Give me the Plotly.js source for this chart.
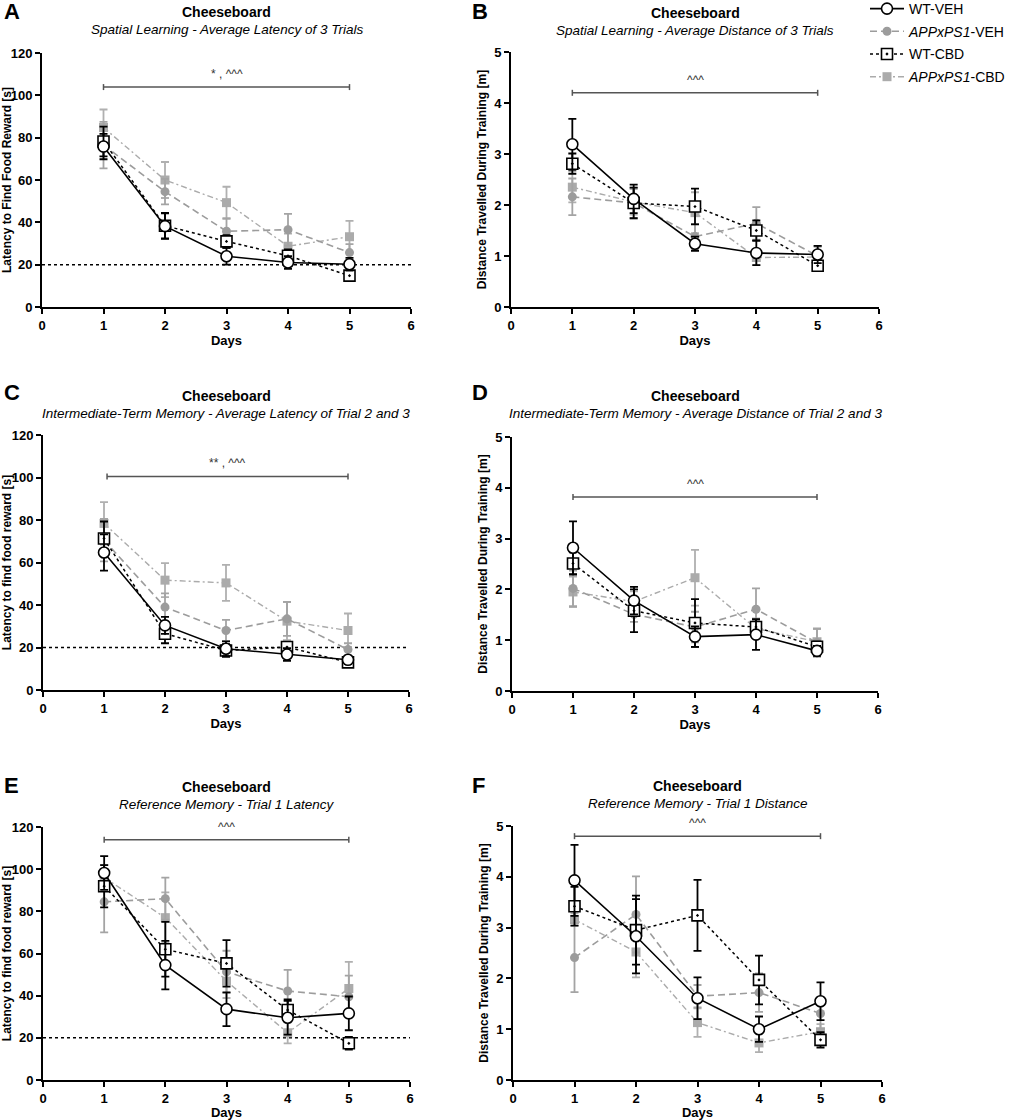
<!DOCTYPE html>
<html>
<head>
<meta charset="utf-8">
<script src="https://cdn.plot.ly/plotly-3.0.1.min.js"></script>
<style>
html,body{margin:0;padding:0;background:#fff;}
#chart{width:1017px;height:1120px;}
</style>
</head>
<body>
<div id="chart"></div>
<script>
// ---------- data ----------
const days = [1, 2, 3, 4, 5];
const seriesNames = ['WT-VEH', '<i>APPxPS1</i>-VEH', 'WT-CBD', '<i>APPxPS1</i>-CBD'];

// Panel A: Spatial learning - latency
const A_wtVeh = [75.8, 38.2, 24.0, 21.0, 20.2];
const A_wtVeh_err = [6, 6, 4, 3, 3];
const A_appVeh = [76.5, 54.5, 35.8, 36.5, 25.7];
const A_appVeh_err = [11, 6, 6, 7.5, 4];
const A_wtCbd = [78.2, 38.4, 31.0, 24.2, 14.8];
const A_wtCbd_err = [7, 6, 3, 3, 1.5];
const A_appCbd = [84.8, 60.0, 49.3, 28.7, 33.2];
const A_appCbd_err = [8.5, 8.5, 7.5, 6, 7.5];

// Panel B: Spatial learning - distance
const B_wtVeh = [3.19, 2.12, 1.24, 1.06, 1.03];
const B_wtVeh_err = [0.5, 0.28, 0.14, 0.24, 0.17];
const B_appVeh = [2.16, 2.04, 1.38, 1.64, 1.0];
const B_appVeh_err = [0.36, 0.3, 0.25, 0.32, 0.2];
const B_wtCbd = [2.81, 2.04, 1.97, 1.50, 0.81];
const B_wtCbd_err = [0.2, 0.3, 0.35, 0.2, 0.1];
const B_appCbd = [2.35, 2.06, 1.85, 0.97, 0.98];
const B_appCbd_err = [0.3, 0.25, 0.4, 0.15, 0.2];

// Panel C: Intermediate-term memory - latency
const C_wtVeh = [64.7, 30.4, 19.4, 16.7, 14.2];
const C_wtVeh_err = [8.5, 4, 3.5, 3, 2];
const C_appVeh = [70.5, 39.0, 28.0, 33.5, 19.0];
const C_appVeh_err = [10, 6.5, 5, 8, 3];
const C_wtCbd = [71.3, 26.5, 18.6, 20.2, 13.0];
const C_wtCbd_err = [8, 4.5, 3, 2, 2];
const C_appCbd = [78.4, 51.7, 50.4, 32.4, 28.0];
const C_appCbd_err = [10, 8, 8.5, 9, 8];

// Panel D: Intermediate-term memory - distance
const D_wtVeh = [2.82, 1.78, 1.07, 1.11, 0.79];
const D_wtVeh_err = [0.52, 0.27, 0.2, 0.3, 0.1];
const D_appVeh = [2.02, 1.51, 1.26, 1.61, 0.95];
const D_appVeh_err = [0.35, 0.15, 0.3, 0.41, 0.28];
const D_wtCbd = [2.51, 1.58, 1.34, 1.26, 0.87];
const D_wtCbd_err = [0.22, 0.42, 0.47, 0.15, 0.1];
const D_appCbd = [1.95, 1.76, 2.23, 1.23, 0.97];
const D_appCbd_err = [0.3, 0.2, 0.55, 0.2, 0.25];

// Panel E: Reference memory - latency
const E_wtVeh = [98.2, 54.5, 33.6, 29.5, 31.6];
const E_wtVeh_err = [8, 11.5, 8, 8, 8];
const E_appVeh = [84.5, 86.0, 51.3, 42.2, 39.5];
const E_appVeh_err = [14.5, 10, 10, 10, 10];
const E_wtCbd = [91.9, 62.0, 55.3, 33.2, 17.4];
const E_wtCbd_err = [10, 13, 11, 5, 3];
const E_appCbd = [96.0, 77.0, 46.9, 22.4, 43.4];
const E_appCbd_err = [6, 12, 8, 5, 12.6];

// Panel F: Reference memory - distance
const F_wtVeh = [3.93, 2.83, 1.61, 1.0, 1.55];
const F_wtVeh_err = [0.7, 0.73, 0.41, 0.25, 0.37];
const F_appVeh = [2.41, 3.26, 1.65, 1.72, 1.31];
const F_appVeh_err = [0.68, 0.75, 0.22, 0.38, 0.3];
const F_wtCbd = [3.42, 2.95, 3.24, 1.97, 0.79];
const F_wtCbd_err = [0.38, 0.68, 0.7, 0.48, 0.15];
const F_appCbd = [3.16, 2.52, 1.13, 0.73, 0.95];
const F_appCbd_err = [0.12, 0.5, 0.28, 0.18, 0.15];

const panelLetters = ['A', 'B', 'C', 'D', 'E', 'F'];
const panelSubtitles = [
  'Spatial Learning - Average Latency of 3 Trials',
  'Spatial Learning - Average Distance of 3 Trials',
  'Intermediate-Term Memory - Average Latency of Trial 2 and 3',
  'Intermediate-Term Memory - Average Distance of Trial 2 and 3',
  'Reference Memory - Trial 1 Latency',
  'Reference Memory - Trial 1 Distance'
];
const yTitles = [
  'Latency to Find Food Reward [s]',
  'Distance Travelled During Training [m]',
  'Latency to find food reward [s]',
  'Distance Travelled During Training [m]',
  'Latency to find food reward [s]',
  'Distance Travelled During Training [m]'
];
const sigY = [103.9, 4.2, 100.5, 3.82, 114, 4.8];
const sigX0 = [1, 1, 1.05, 1, 1, 1];
const sigX1 = [5, 5, 5, 5, 5, 5];
const sigText = ['* , ^^^', '^^^', '** , ^^^', '^^^', '^^^', '^^^'];
const criterionLatency = 20;

// ---------- layout geometry (pixels) ----------
const W = 1017, H = 1120;
const boxes = [
  {x0: 42, x1: 411, y0: 53, y1: 307},
  {x0: 511, x1: 879, y0: 52, y1: 307},
  {x0: 43, x1: 409, y0: 435, y1: 690},
  {x0: 512, x1: 878, y0: 437, y1: 691},
  {x0: 43, x1: 410, y0: 827, y1: 1080},
  {x0: 513, x1: 882, y0: 826, y1: 1080}
];
const titleY = [12, 13, 396, 396, 787, 786];
const letterPos = [{x: 2, y: 12}, {x: 470, y: 12}, {x: 2, y: 392}, {x: 470, y: 392}, {x: 2, y: 785}, {x: 470, y: 785}];

const panels = [
  [A_wtVeh, A_wtVeh_err, A_appVeh, A_appVeh_err, A_wtCbd, A_wtCbd_err, A_appCbd, A_appCbd_err],
  [B_wtVeh, B_wtVeh_err, B_appVeh, B_appVeh_err, B_wtCbd, B_wtCbd_err, B_appCbd, B_appCbd_err],
  [C_wtVeh, C_wtVeh_err, C_appVeh, C_appVeh_err, C_wtCbd, C_wtCbd_err, C_appCbd, C_appCbd_err],
  [D_wtVeh, D_wtVeh_err, D_appVeh, D_appVeh_err, D_wtCbd, D_wtCbd_err, D_appCbd, D_appCbd_err],
  [E_wtVeh, E_wtVeh_err, E_appVeh, E_appVeh_err, E_wtCbd, E_wtCbd_err, E_appCbd, E_appCbd_err],
  [F_wtVeh, F_wtVeh_err, F_appVeh, F_appVeh_err, F_wtCbd, F_wtCbd_err, F_appCbd, F_appCbd_err]
];

const FONT = '"Liberation Sans", Arial, Helvetica, sans-serif';
const styles = [
  {name: seriesNames[0], line: {color: '#000', width: 1.6, dash: 'solid'},
   marker: {symbol: 'circle', size: 11, color: '#fff', line: {color: '#000', width: 1.6}}, err: '#000', rank: 1},
  {name: seriesNames[1], line: {color: '#9c9c9c', width: 1.6, dash: '7px,4px'},
   marker: {symbol: 'circle', size: 9, color: '#9c9c9c', line: {color: '#9c9c9c', width: 0}}, err: '#a4a4a4', rank: 2},
  {name: seriesNames[2], line: {color: '#000', width: 1.5, dash: 'dot'},
   marker: {symbol: 'square-dot', size: 11, color: '#fff', line: {color: '#000', width: 1.6}}, err: '#000', rank: 3},
  {name: seriesNames[3], line: {color: '#ababab', width: 1.4, dash: '6px,3px,2px,3px'},
   marker: {symbol: 'square', size: 9, color: '#ababab', line: {color: '#ababab', width: 0}}, err: '#b0b0b0', rank: 4}
];
const drawOrder = [3, 1, 2, 0];

const traces = [];
const layout = {
  width: W, height: H,
  margin: {l: 0, r: 0, t: 0, b: 0, autoexpand: false},
  paper_bgcolor: '#fff', plot_bgcolor: '#fff',
  font: {family: FONT, color: '#000'},
  showlegend: true,
  legend: {x: 865 / W, y: 1 + 7 / H, xanchor: 'left', yanchor: 'top',
    font: {family: FONT, size: 14, color: '#000'}, itemwidth: 34, tracegroupgap: 1.5,
    traceorder: 'grouped', bgcolor: 'rgba(0,0,0,0)'},
  annotations: [], shapes: []
};

panels.forEach((p, i) => {
  const n = i + 1;
  const xa = 'x' + (n === 1 ? '' : n), ya = 'y' + (n === 1 ? '' : n);
  const isLat = (i % 2 === 0);
  const b = boxes[i];
  drawOrder.forEach(s => {
    const st = styles[s];
    traces.push({
      type: 'scatter', mode: 'lines+markers', x: days, y: p[s * 2],
      xaxis: xa, yaxis: ya, name: st.name, legendrank: st.rank, legendgroup: 'g' + st.rank,
      showlegend: i === 0, cliponaxis: false,
      line: st.line, marker: st.marker,
      error_y: {type: 'data', array: p[s * 2 + 1], visible: true, color: st.err, thickness: 1.8, width: 4}
    });
  });
  const xKey = 'xaxis' + (n === 1 ? '' : n), yKey = 'yaxis' + (n === 1 ? '' : n);
  layout[xKey] = {
    domain: [b.x0 / W, b.x1 / W], anchor: ya, range: [0, 6], dtick: 1, tick0: 0, automargin: false,
    showgrid: false, zeroline: false, showline: true, linecolor: '#000', linewidth: 2,
    ticks: 'outside', ticklen: 5, tickwidth: 2, tickcolor: '#000',
    tickprefix: '<b>', ticksuffix: '</b>',
    tickfont: {family: FONT, size: 13},
    title: {text: '<b>Days</b>', font: {family: FONT, size: 13}, standoff: 3}
  };
  layout[yKey] = {
    domain: [1 - b.y1 / H, 1 - b.y0 / H], anchor: xa, automargin: false,
    range: isLat ? [0, 120] : [0, 5], dtick: isLat ? 20 : 1, tick0: 0,
    showgrid: false, zeroline: false, showline: true, linecolor: '#000', linewidth: 2,
    ticks: 'outside', ticklen: 5, tickwidth: 2, tickcolor: '#000',
    tickprefix: '<b>', ticksuffix: '</b>',
    tickfont: {family: FONT, size: 13},
    title: {text: '<b>' + yTitles[i] + '</b>', font: {family: FONT, size: 12}, standoff: 5}
  };
  const cx = (b.x0 + b.x1) / 2 / W;
  layout.annotations.push({
    xref: 'paper', yref: 'paper', x: cx, y: 1 - titleY[i] / H, text: '<b>Cheeseboard</b>',
    showarrow: false, xanchor: 'center', yanchor: 'middle', font: {family: FONT, size: 14}
  });
  layout.annotations.push({
    xref: 'paper', yref: 'paper', x: cx, y: 1 - (titleY[i] + 17) / H, text: '<i>' + panelSubtitles[i] + '</i>',
    showarrow: false, xanchor: 'center', yanchor: 'middle', font: {family: FONT, size: 13.5}
  });
  layout.annotations.push({
    xref: 'paper', yref: 'paper', x: letterPos[i].x / W, y: 1 - letterPos[i].y / H, text: '<b>' + panelLetters[i] + '</b>',
    showarrow: false, xanchor: 'left', yanchor: 'middle', font: {family: FONT, size: 22}
  });
  // significance bar
  layout.shapes.push({type: 'line', xref: xa, yref: ya, x0: sigX0[i], x1: sigX1[i], y0: sigY[i], y1: sigY[i],
    line: {color: '#555', width: 1.5}});
  [sigX0[i], sigX1[i]].forEach(xx => {
    layout.shapes.push({type: 'line', xref: xa, yref: ya, x0: xx, x1: xx, ysizemode: 'pixel', yanchor: sigY[i],
      y0: -3, y1: 3, line: {color: '#555', width: 1.5}});
  });
  layout.annotations.push({
    xref: xa, yref: ya, x: (sigX0[i] + sigX1[i]) / 2, y: sigY[i], yshift: 13, text: sigText[i],
    showarrow: false, xanchor: 'center', yanchor: 'middle', font: {family: FONT, size: 12, color: '#333'}
  });
  if (isLat) {
    layout.shapes.push({type: 'line', xref: xa, yref: ya, x0: 0, x1: 6, y0: criterionLatency, y1: criterionLatency,
      layer: 'below', line: {color: '#000', width: 1.5, dash: 'dot'}});
  }
});

Plotly.newPlot('chart', traces, layout, {staticPlot: true, displayModeBar: false});
</script>
</body>
</html>
